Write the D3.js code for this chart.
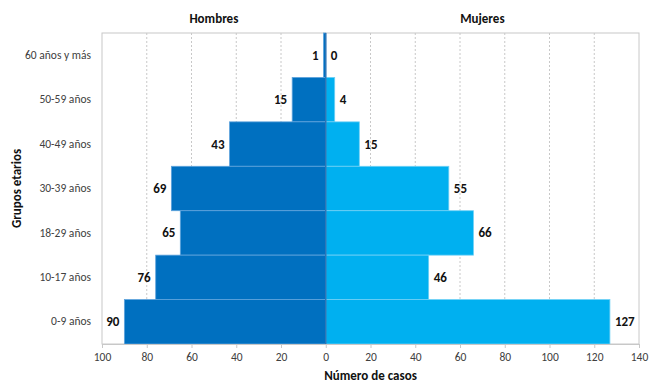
<!DOCTYPE html>
<html><head><meta charset="utf-8">
<script src="https://cdn.jsdelivr.net/npm/d3@7"></script>
<style>
body{margin:0;background:#fff;}
svg{display:block;font-family:Carlito,Lato,"Open Sans",sans-serif;}
</style></head>
<body>
<svg id="c" width="649" height="383"></svg>
<script>
const categories = ["60 años y más","50-59 años","40-49 años","30-39 años","18-29 años","10-17 años","0-9 años"];
const hombres = [1,15,43,69,65,76,90];
const mujeres = [0,4,15,55,66,46,127];
const tickValues = [-100,-80,-60,-40,-20,0,20,40,60,80,100,120,140];

const svg = d3.select("#c");
const L=102, R=639, T=33, B=344;
const x = d3.scaleLinear().domain([-100,140]).range([L,R]);
const y = d3.scaleBand().domain(categories).range([T,B]).padding(0);

// gridlines
svg.append("g").selectAll("line").data(tickValues.filter(d=>d!==-100&&d!==140&&d!==0)).join("line")
  .attr("x1",d=>x(d)).attr("x2",d=>x(d)).attr("y1",T).attr("y2",B)
  .attr("stroke","#c8c8c8").attr("stroke-dasharray","2,2").attr("stroke-width",1);

// plot border
svg.append("rect").attr("x",L).attr("y",T).attr("width",R-L).attr("height",B-T)
  .attr("fill","none").attr("stroke","#c8c8c8").attr("stroke-width",1);

// bars
const data = categories.map((c,i)=>({c,h:hombres[i],m:mujeres[i]}));
svg.append("g").selectAll("rect").data(data).join("rect")
  .attr("x",d=>x(-d.h)).attr("width",d=>x(0)-x(-d.h))
  .attr("y",d=>y(d.c)).attr("height",y.bandwidth())
  .attr("fill","#0070C0").attr("stroke","#5fa3dc").attr("stroke-width",d=>d.h>0?0.8:0);
svg.append("g").selectAll("rect").data(data).join("rect")
  .attr("x",x(0)).attr("width",d=>x(d.m)-x(0))
  .attr("y",d=>y(d.c)).attr("height",y.bandwidth())
  .attr("fill","#00B0F0").attr("stroke","#6fd0f5").attr("stroke-width",d=>d.m>0?0.8:0);

// zero line
svg.append("line").attr("x1",x(0)).attr("x2",x(0)).attr("y1",T).attr("y2",B)
  .attr("stroke","#2E75B6").attr("stroke-width",1.5);

// value labels
svg.append("g").selectAll("text").data(data).join("text")
  .attr("x",d=>x(-d.h)-5).attr("y",d=>y(d.c)+y.bandwidth()/2+4.5)
  .attr("text-anchor","end").attr("font-size",13).attr("font-weight","bold").attr("fill","#111")
  .text(d=>d.h);
svg.append("g").selectAll("text").data(data).join("text")
  .attr("x",d=>x(d.m)+5).attr("y",d=>y(d.c)+y.bandwidth()/2+4.5)
  .attr("text-anchor","start").attr("font-size",13).attr("font-weight","bold").attr("fill","#111")
  .text(d=>d.m);

// x axis
const xAxis = d3.axisBottom(x).tickValues(tickValues).tickFormat(d=>Math.abs(d)).tickSize(4).tickPadding(5);
const gx = svg.append("g").attr("transform",`translate(0,${B})`).call(xAxis);
gx.select(".domain").attr("stroke","#c8c8c8");
gx.selectAll(".tick line").attr("stroke","#c8c8c8");
gx.selectAll("text").attr("font-size",11.5).attr("fill","#404040").attr("font-family","Carlito,Lato,'Open Sans',sans-serif");

// y axis labels
const yAxis = d3.axisLeft(y).tickSize(0).tickPadding(11);
const gy = svg.append("g").attr("transform",`translate(${L},0)`).call(yAxis);
gy.select(".domain").remove();
gy.selectAll("text").attr("font-size",11.5).attr("fill","#404040").attr("font-family","Carlito,Lato,'Open Sans',sans-serif");

// titles
svg.append("text").attr("x",(L+x(0))/2).attr("y",23).attr("text-anchor","middle")
  .attr("font-size",13).attr("font-weight","bold").attr("fill","#111").text("Hombres");
svg.append("text").attr("x",(x(0)+R)/2).attr("y",23).attr("text-anchor","middle")
  .attr("font-size",13).attr("font-weight","bold").attr("fill","#111").text("Mujeres");
svg.append("text").attr("x",(L+R)/2).attr("y",380).attr("text-anchor","middle")
  .attr("font-size",13).attr("font-weight","bold").attr("fill","#111").text("Número de casos");
svg.append("text").attr("transform",`translate(21,${(T+B)/2}) rotate(-90)`).attr("text-anchor","middle")
  .attr("font-size",13).attr("font-weight","bold").attr("fill","#111").text("Grupos etarios");
</script>
</body></html>
